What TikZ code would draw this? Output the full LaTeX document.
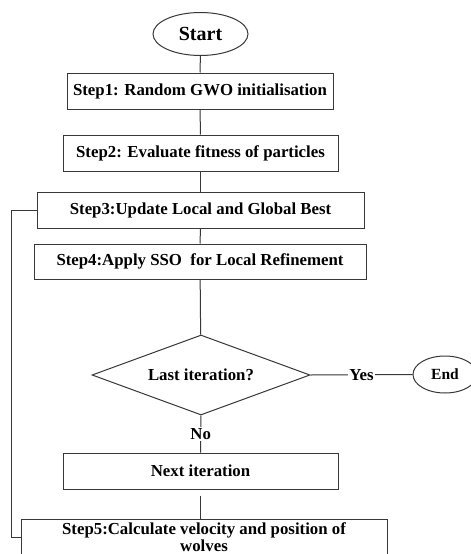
\documentclass[tikz,border=0pt]{standalone}
\usepackage{fontspec}
\setmainfont{Liberation Serif}
\usetikzlibrary{shapes.geometric}
\begin{document}
\begin{tikzpicture}[x=1pt,y=1pt,
  every node/.style={font=\fontsize{16.8}{18}\selectfont\bfseries, text=black},
  line/.style={draw=black!78, line width=1pt},
  stepbox/.style={line, rectangle, inner sep=0pt, minimum height=36pt},
  term/.style={line, ellipse, inner sep=0pt},
  decide/.style={line, diamond, inner sep=0pt, aspect=2.7, minimum width=218pt, minimum height=80pt},
  lbl/.style={fill=white, inner sep=1.5pt}]
\useasboundingbox (0,0) rectangle (471,-554);
\fill[white] (0,0) rectangle (471,-554);

\node[term, minimum width=95pt, minimum height=43pt, font=\fontsize{20}{22}\selectfont\bfseries] (start) at (200.5,-34) {Start};
\node[stepbox, minimum width=266pt] (s1) at (200,-91) {Step1: Random GWO initialisation};
\node[stepbox, minimum width=275pt] (s2) at (200.5,-153) {Step2: Evaluate fitness of particles};
\node[stepbox, minimum width=327pt] (s3) at (200.5,-210) {Step3:Update Local and Global Best};
\node[stepbox, minimum width=332pt, minimum height=35pt] (s4) at (200,-261.5) {Step4:Apply SSO\ \ for Local Refinement};
\node[decide] (dec) at (201,-375) {Last iteration?};
\node[term, minimum width=64pt, minimum height=37pt, font=\fontsize{15.5}{17}\selectfont\bfseries] (end) at (445,-374.5) {End};
\node[stepbox, minimum width=275pt] (next) at (200.5,-471) {Next iteration};
\node[stepbox, minimum width=366pt, minimum height=37pt, align=center] (s5) at (204,-537.5) {Step5:Calculate velocity and position of\\[-1pt]wolves};

\draw[line] (start) -- (s1);
\draw[line] (s1) -- (s2);
\draw[line] (s2) -- (s3);
\draw[line] (s3) -- (s4);
\draw[line] (s4) -- (dec);
\draw[line] (dec.east) -- node[lbl] (yes) {Yes} (end.west);
\draw[line] (dec.south) -- node[lbl] (no) {No} (next.north);
\draw[line, shorten <=6pt] (next.south) -- (next.south |- s5.north);
\draw[line] (s3.west) -- ++(-25,0) |- (s5.west);
\end{tikzpicture}
\end{document}
